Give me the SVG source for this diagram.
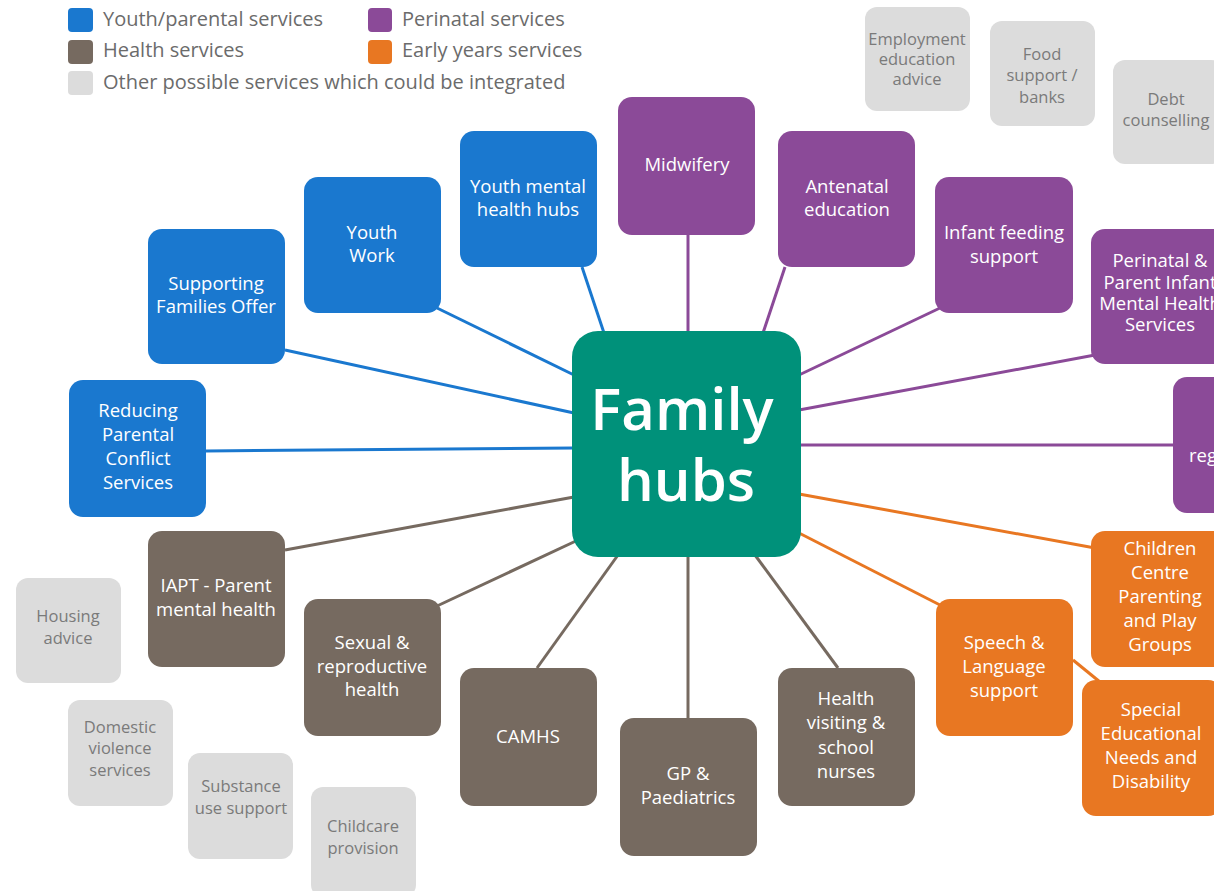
<svg xmlns="http://www.w3.org/2000/svg" width="1214" height="891" viewBox="0 0 1214 891">
<style>
text{font-family:"Open Sans","Liberation Sans",sans-serif;text-anchor:middle}
.w{fill:#fff;font-size:18.5px}
.g{fill:#7a7a7a;font-size:16.5px}
.lg{fill:#6b6b6b;font-size:20px;text-anchor:start}
.blue{fill:#1a78cf}.pur{fill:#8b4a98}.brn{fill:#766a60}.org{fill:#e87722}.gry{fill:#dcdcdc}
.cb{stroke:#1a78cf}.cp{stroke:#8b4a98}.cbr{stroke:#766a60}.co{stroke:#e87722}
#connectors line{stroke-width:3}
</style>
<rect width="1214" height="891" fill="#fff"/>
<g id="legend">
<rect x="68" y="8" width="25" height="24" rx="4" class="blue"/>
<text x="103" y="26" class="lg">Youth/parental services</text>
<rect x="368" y="8" width="24" height="24" rx="4" class="pur"/>
<text x="402" y="26" class="lg">Perinatal services</text>
<rect x="68" y="40" width="25" height="24" rx="4" class="brn"/>
<text x="103" y="57" class="lg">Health services</text>
<rect x="368" y="40" width="24" height="24" rx="4" class="org"/>
<text x="402" y="57" class="lg">Early years services</text>
<rect x="68" y="71" width="25" height="24" rx="4" class="gry"/>
<text x="103" y="89" class="lg">Other possible services which could be integrated</text>
</g>
<g id="connectors">
<line x1="604" y1="333" x2="582" y2="267" class="cb"/>
<line x1="574" y1="375" x2="437" y2="308" class="cb"/>
<line x1="574" y1="413" x2="285" y2="350" class="cb"/>
<line x1="574" y1="448" x2="206" y2="451" class="cb"/>
<line x1="688" y1="333" x2="688" y2="235" class="cp"/>
<line x1="763" y1="333" x2="785" y2="267" class="cp"/>
<line x1="799" y1="375" x2="940" y2="308" class="cp"/>
<line x1="799" y1="410" x2="1095" y2="355" class="cp"/>
<line x1="799" y1="445" x2="1175" y2="445" class="cp"/>
<line x1="799" y1="494" x2="1095" y2="548" class="co"/>
<line x1="799" y1="533" x2="940" y2="605" class="co"/>
<line x1="1073" y1="660" x2="1100" y2="682" class="co"/>
<line x1="574" y1="497" x2="285" y2="550" class="cbr"/>
<line x1="578" y1="540" x2="437" y2="606" class="cbr"/>
<line x1="618" y1="555" x2="537" y2="668" class="cbr"/>
<line x1="688" y1="555" x2="688" y2="718" class="cbr"/>
<line x1="755" y1="555" x2="838" y2="668" class="cbr"/>
</g>
<g id="hub">
<rect x="572" y="331" width="229" height="226" rx="26" fill="#00917a"/>
<text x="682" y="430" fill="#fff" font-size="58" font-weight="600">Family</text>
<text x="686" y="501" fill="#fff" font-size="58" font-weight="600">hubs</text>
</g>
<g id="youth-mental"><rect x="460" y="131" width="137" height="136" rx="14" class="blue"/>
<text x="528" y="193" class="w">Youth mental</text><text x="528" y="216" class="w">health hubs</text></g>
<g id="youth-work"><rect x="304" y="177" width="137" height="136" rx="14" class="blue"/>
<text x="372" y="239" class="w">Youth</text><text x="372" y="262" class="w">Work</text></g>
<g id="supporting"><rect x="148" y="229" width="137" height="135" rx="14" class="blue"/>
<text x="216" y="290" class="w">Supporting</text><text x="216" y="313" class="w">Families Offer</text></g>
<g id="reducing"><rect x="69" y="380" width="137" height="137" rx="14" class="blue"/>
<text x="138" y="417" class="w">Reducing</text><text x="138" y="441" class="w">Parental</text><text x="138" y="465" class="w">Conflict</text><text x="138" y="489" class="w">Services</text></g>
<g id="midwifery"><rect x="618" y="97" width="137" height="138" rx="14" class="pur"/>
<text x="687" y="171" class="w">Midwifery</text></g>
<g id="antenatal"><rect x="778" y="131" width="137" height="136" rx="14" class="pur"/>
<text x="847" y="193" class="w">Antenatal</text><text x="847" y="216" class="w">education</text></g>
<g id="infant"><rect x="935" y="177" width="138" height="136" rx="14" class="pur"/>
<text x="1004" y="239" class="w">Infant feeding</text><text x="1004" y="263" class="w">support</text></g>
<g id="perinatal"><rect x="1091" y="229" width="140" height="135" rx="14" class="pur"/>
<text x="1160" y="267" class="w" font-size="16">Perinatal &amp;</text><text x="1160" y="289" class="w" font-size="16">Parent Infant</text><text x="1160" y="310" class="w" font-size="16">Mental Health</text><text x="1160" y="331" class="w" font-size="16">Services</text></g>
<g id="reg"><rect x="1173" y="377" width="140" height="136" rx="14" class="pur"/>
<text x="1189" y="462" class="w" style="text-anchor:start">reg</text></g>
<g id="children"><rect x="1091" y="531" width="140" height="136" rx="14" class="org"/>
<text x="1160" y="555" class="w">Children</text><text x="1160" y="579" class="w">Centre</text><text x="1160" y="603" class="w">Parenting</text><text x="1160" y="627" class="w">and Play</text><text x="1160" y="651" class="w">Groups</text></g>
<g id="speech"><rect x="936" y="599" width="137" height="137" rx="14" class="org"/>
<text x="1004" y="649" class="w">Speech &amp;</text><text x="1004" y="673" class="w">Language</text><text x="1004" y="697" class="w">support</text></g>
<g id="send"><rect x="1082" y="680" width="140" height="136" rx="14" class="org"/>
<text x="1151" y="716" class="w">Special</text><text x="1151" y="740" class="w">Educational</text><text x="1151" y="764" class="w">Needs and</text><text x="1151" y="788" class="w">Disability</text></g>
<g id="iapt"><rect x="148" y="531" width="137" height="136" rx="14" class="brn"/>
<text x="216" y="592" class="w">IAPT - Parent</text><text x="216" y="616" class="w">mental health</text></g>
<g id="sexual"><rect x="304" y="599" width="137" height="137" rx="14" class="brn"/>
<text x="372" y="649" class="w">Sexual &amp;</text><text x="372" y="673" class="w">reproductive</text><text x="372" y="696" class="w">health</text></g>
<g id="camhs"><rect x="460" y="668" width="137" height="138" rx="14" class="brn"/>
<text x="528" y="743" class="w">CAMHS</text></g>
<g id="gp"><rect x="620" y="718" width="137" height="138" rx="14" class="brn"/>
<text x="688" y="780" class="w">GP &amp;</text><text x="688" y="804" class="w">Paediatrics</text></g>
<g id="health-visiting"><rect x="778" y="668" width="137" height="138" rx="14" class="brn"/>
<text x="846" y="705" class="w">Health</text><text x="846" y="729" class="w">visiting &amp;</text><text x="846" y="754" class="w">school</text><text x="846" y="778" class="w">nurses</text></g>
<g id="employment"><rect x="865" y="7" width="105" height="104" rx="12" class="gry"/>
<text x="917" y="45" class="g" font-size="15">Employment</text><text x="917" y="65" class="g" font-size="15">education</text><text x="917" y="85" class="g" font-size="15">advice</text></g>
<g id="food"><rect x="990" y="21" width="105" height="105" rx="12" class="gry"/>
<text x="1042" y="60" class="g">Food</text><text x="1042" y="81" class="g">support /</text><text x="1042" y="103" class="g">banks</text></g>
<g id="debt"><rect x="1113" y="60" width="110" height="104" rx="12" class="gry"/>
<text x="1166" y="105" class="g">Debt</text><text x="1166" y="126" class="g">counselling</text></g>
<g id="housing"><rect x="16" y="578" width="105" height="105" rx="12" class="gry"/>
<text x="68" y="622" class="g">Housing</text><text x="68" y="644" class="g">advice</text></g>
<g id="domestic"><rect x="68" y="700" width="105" height="106" rx="12" class="gry"/>
<text x="120" y="733" class="g">Domestic</text><text x="120" y="754" class="g">violence</text><text x="120" y="776" class="g">services</text></g>
<g id="substance"><rect x="188" y="753" width="105" height="106" rx="12" class="gry"/>
<text x="241" y="792" class="g">Substance</text><text x="241" y="814" class="g">use support</text></g>
<g id="childcare"><rect x="311" y="787" width="105" height="110" rx="12" class="gry"/>
<text x="363" y="832" class="g">Childcare</text><text x="363" y="854" class="g">provision</text></g>
</svg>
